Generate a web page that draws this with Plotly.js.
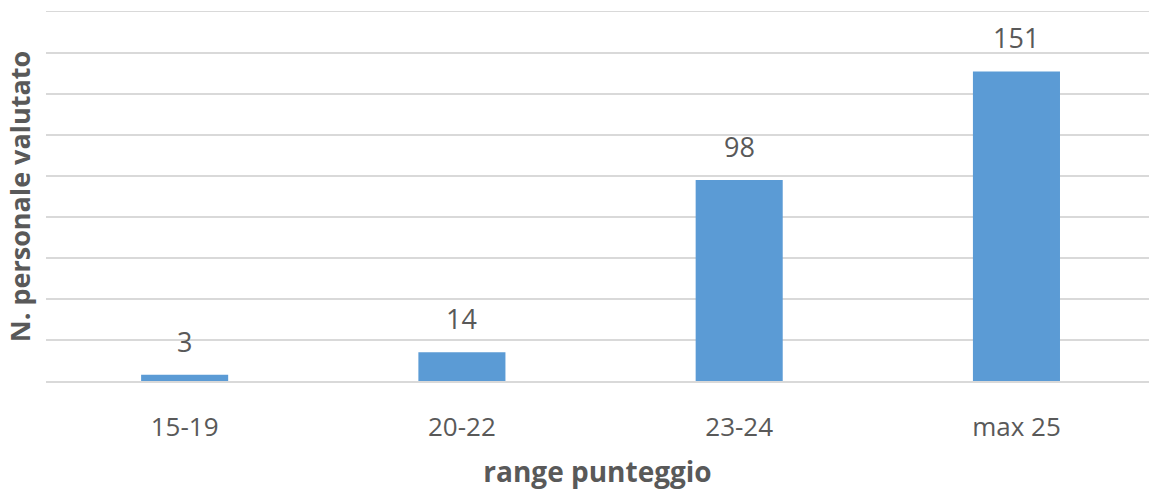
<!DOCTYPE html>
<html>
<head>
<meta charset="utf-8">
<script src="https://cdn.plot.ly/plotly-3.0.1.min.js"></script>
<style>html,body{margin:0;padding:0;background:#fff;}#chart{width:1149px;height:490px;}</style>
</head>
<body>
<div id="chart"></div>
<script>
var categories = ["15-19", "20-22", "23-24", "max 25"];
var values = [3, 14, 98, 151];
var yTicks = [0, 20, 40, 60, 80, 100, 120, 140, 160, 180];

var textColor = "#595959";
var fontFam = "Open Sans, sans-serif";

var trace = {
  type: "bar",
  x: categories,
  y: values,
  marker: {color: "#5B9BD5"},
  hoverinfo: "x+y"
};

var annotations = categories.map(function(c, i){
  return {
    x: c, y: values[i], xref: "x", yref: "y",
    text: String(values[i]), showarrow: false,
    yanchor: "bottom", yshift: 13,
    font: {family: fontFam, size: 27, color: textColor}
  };
});

var layout = {
  width: 1149, height: 490,
  margin: {l: 46, r: 0, t: 12, b: 108.5},
  paper_bgcolor: "#fff", plot_bgcolor: "#fff",
  bargap: 0.686,
  showlegend: false,
  xaxis: {
    type: "category",
    range: [-0.5, 3.478],
    showgrid: false, zeroline: false,
    showline: true, mirror: true, linecolor: "#D9D9D9", linewidth: 1.5,
    ticks: "", ticklabelstandoff: 22,
    tickfont: {family: fontFam, size: 26, color: textColor},
    title: {text: "range punteggio", standoff: 22,
            font: {family: fontFam, size: 28, color: textColor, weight: "bold"}}
  },
  yaxis: {
    range: [0, 180],
    tickvals: yTicks,
    showticklabels: false,
    showgrid: true, gridcolor: "#D9D9D9", gridwidth: 1.5,
    zeroline: false, showline: false, ticks: "",
    title: {text: "N. personale valutato", standoff: 6,
            font: {family: fontFam, size: 27, color: textColor, weight: "bold"}}
  },
  annotations: annotations
};

Plotly.newPlot("chart", [trace], layout, {displayModeBar: false, staticPlot: true});
</script>
</body>
</html>
